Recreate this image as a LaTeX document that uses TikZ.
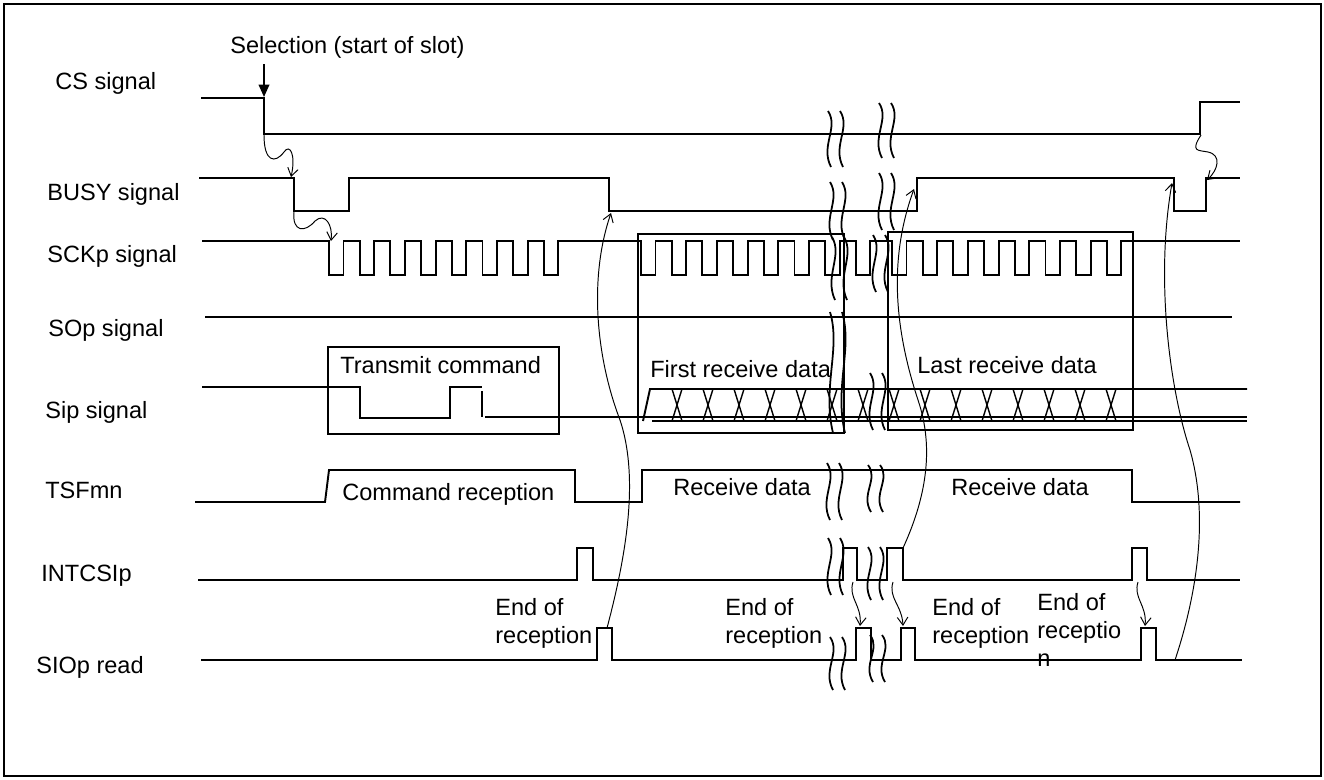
\documentclass[tikz,border=0pt]{standalone}
\usepackage{fontspec}
\setmainfont{Liberation Sans}
\usetikzlibrary{arrows.meta}
\tikzset{font={\fontsize{13.4pt}{15.9pt}\selectfont}}

\begin{document}
\begin{tikzpicture}[x=0.02cm,y=-0.02cm,
sig/.style={line width=1.1pt},
frm/.style={line width=0.7pt},
lbl/.style={anchor=base west,inner sep=0pt,align=left},
cause/.style={line width=0.55pt,-{Straight Barb[length=4.5pt,width=6pt]}},
pics/brk/.style={code={
\draw[line width=1pt] (0,0) .. controls (11,0.3*#1) and (-8,0.62*#1) .. (3,#1);
\draw[line width=1pt] (12,0) .. controls (23,0.3*#1) and (4,0.62*#1) .. (15,#1);}}
]
\useasboundingbox (0,0) rectangle (1324,779);
\draw[line width=1.1pt] (4,4) rectangle (1321,776);

%labels
\node[lbl] (cs) at (55,89) {CS signal};
\node[lbl] (busy) at (47,200) {BUSY signal};
\node[lbl] (sck) at (47,262) {SCKp signal};
\node[lbl] (so) at (48,336) {SOp signal};
\node[lbl] (si) at (45,418) {Sip signal};
\node[lbl] (tsf) at (45,498) {TSFmn};
\node[lbl] (intc) at (41,581) {INTCSIp};
\node[lbl] (rd) at (36,673) {SIOp read};

\node[lbl] (sel) at (230,53) {Selection (start of slot)};
\node[lbl] (tx) at (340,373) {Transmit command};
\node[lbl] (first) at (650,377) {First receive data};
\node[lbl] (last) at (917,373) {Last receive data};
\node[lbl] (cmd) at (342,500) {Command reception};
\node[lbl] (rx1) at (673,495) {Receive data};
\node[lbl] (rx2) at (951,495) {Receive data};
\node[lbl] (end1) at (495,643) {End of\\reception};
\node[lbl] (end2) at (725,643) {End of\\reception};
\node[lbl] (end3) at (932,643) {End of\\reception};
\node[lbl] (end4) at (1037,666) {End of\\receptio\\n};

%boxes
\draw[frm] (328,347) rectangle (559,434);
\draw[frm] (638,234) rectangle (844,433);
\draw[frm] (888,232) rectangle (1133,430);

%signals
\draw[sig] (201,98) -- (264,98) -- (264,134) -- (1200,134) -- (1200,102) -- (1240,102);
\draw[sig] (199,178) -- (294,178) -- (294,211) -- (349,211) -- (349,178) -- (609,178) -- (609,211)
  -- (917,211) -- (917,178) -- (1174,178) -- (1174,211) -- (1206,211) -- (1206,178) -- (1240,178);
\draw[sig] (202,241) foreach \s in {329,641,892}{ foreach \i in {0,...,7}{
  -- ({\s+30.7*\i},241) -- ++(0,34) -- ++(14.5,0) -- ++(0,-34)}} -- (1240,241);
\draw[sig] (205,317) -- (1232,317);
\draw[sig] (202,387) -- (360,387) -- (360,418) -- (450,418) -- (450,387) -- (482,387);
\draw[sig] (482,391) -- (482,417);
\draw[sig] (485,417) -- (1247,417);
\draw[sig] (643,421) -- (650,389) -- (1247,389);
\draw[sig] (652,421) -- (1247,421);
\foreach \c in {677,708,...,1111}
  \draw[line width=0.8pt] (\c-5,389) -- (\c+5,421) (\c+5,389) -- (\c-5,421);
\draw[sig] (195,502) -- (325,502) -- (329,470) -- (575,470) -- (575,502) -- (642,502) -- (642,470)
  -- (1132,470) -- (1132,502) -- (1240,502);
\draw[sig] (198,580) foreach \a/\b in {577/593,843/857,887/903,1132/1147}{
  -- (\a,580) -- (\a,548) -- (\b,548) -- (\b,580)} -- (1240,580);
\draw[sig] (201,660) foreach \a/\b in {597/612,856/871,901/915,1141/1156}{
  -- (\a,660) -- (\a,628) -- (\b,628) -- (\b,660)} -- (1242,660);

%breaks
\foreach \x/\y/\h in {828/111/56,830/182/58,832/237/63,830/312/121,827/463/57,828/538/57,830/637/53,
  879/103/55,879/173/57,873/235/57,870/373/57,868/465/47,868/547/53,870/635/47}
  \pic at (\x,\y) {brk=\h};

%causes
\coordinate (csdn) at (264,64);
\coordinate (csfall) at (264,97);
\coordinate (csfoot) at (264,135);
\coordinate (bsfall) at (291,177);
\coordinate (bsfoot) at (294,212);
\coordinate (sckfall) at (331,241);
\coordinate (rd1) at (607,628);
\coordinate (bs1) at (611,213);
\coordinate (int2) at (903,548);
\coordinate (bs2) at (914,189);
\coordinate (rd4) at (1175,660);
\coordinate (bs3) at (1172,183);
\coordinate (csrise) at (1201,135);
\coordinate (bs4) at (1207,180);
\draw[line width=1pt,-{Triangle[length=7pt,width=6pt]}] (csdn) -- (csfall);
\draw[cause] (csfoot) .. controls (264,162) and (275,164) .. (284,152) .. controls (290,143) and (296,155) .. (bsfall);
\draw[cause] (bsfoot) .. controls (292,232) and (305,233) .. (315,221) .. controls (325,212) and (333,225) .. (sckfall);
\draw[cause] (rd1) .. controls (625,560) and (640,480) .. (620,420) .. controls (597,360) and (588,280) .. (bs1);
\draw[cause] (int2) .. controls (925,500) and (935,450) .. (918,400) .. controls (895,330) and (888,260) .. (bs2);
\draw[cause] (rd4) .. controls (1195,600) and (1210,520) .. (1190,450) .. controls (1170,390) and (1155,280) .. (bs3);
\draw[cause] (csrise) .. controls (1190,152) and (1198,150) .. (1208,152) .. controls (1222,155) and (1218,170) .. (bs4);
\foreach \a/\b in {853/860,893/903,1138/1145}
  \draw[cause] (\a,582) .. controls (\a-5,598) and (\a+9,605) .. (\b,626);
\end{tikzpicture}
\end{document}
